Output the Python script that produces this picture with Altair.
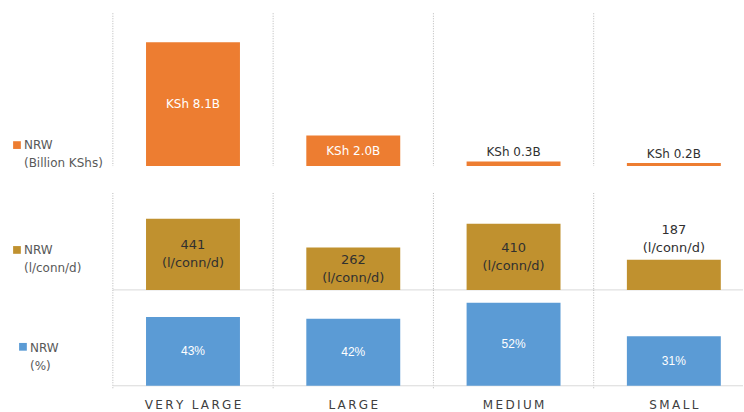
import altair as alt
import pandas as pd

categories = ["VERY LARGE", "LARGE", "MEDIUM", "SMALL"]
nrw_ksh_billion = [8.1, 2.0, 0.3, 0.2]
nrw_l_conn_d = [441, 262, 410, 187]
nrw_pct = [43, 42, 52, 31]

ORANGE = "#ED7D31"
GOLD = "#C0912F"
BLUE = "#5B9BD5"
FONT = "DejaVu Sans"
DARK = "#303030"
LEG = "#595959"
GRID = "#b8b8b8"
BASE = "#d9d9d9"

W = 631
XRANGE = [0, 642]
BARW = 0.586

df1 = pd.DataFrame({"cat": categories, "v": nrw_ksh_billion,
                    "label": [f"KSh {v:.1f}B" for v in nrw_ksh_billion]})
df2 = pd.DataFrame({"cat": categories, "v": nrw_l_conn_d,
                    "label": [f"{v}\n(l/conn/d)" for v in nrw_l_conn_d]})
df3 = pd.DataFrame({"cat": categories, "v": nrw_pct,
                    "label": [f"{v}%" for v in nrw_pct]})
one = pd.DataFrame({"a": [0]})

xscale = alt.Scale(domain=categories, range=XRANGE, paddingInner=0, paddingOuter=0)


def X(**kw):
    return alt.X("cat:N", sort=categories, scale=xscale, axis=None, **kw)


def panel(df, color, domain, height, yrange, thresh, in_color, in_font, in_size,
          in_dy, out_dy, legend_text, sq_xy, txt_xy, div_y2, baseline, cat_labels=False):
    ysc = alt.Scale(domain=domain, range=yrange)
    base = alt.Chart(df)
    layers = []
    layers.append(base.mark_rule(color=GRID, strokeDash=[1, 1.5], strokeWidth=1).encode(
        x=X(bandPosition=0), y=alt.value(0), y2=alt.value(div_y2)))
    if baseline is not None:
        layers.append(alt.Chart(one).mark_rule(color=BASE, strokeWidth=1).encode(
            x=alt.value(0), x2=alt.value(W), y=alt.value(baseline)))
    layers.append(base.mark_bar(width=alt.RelativeBandSize(BARW), color=color).encode(
        x=X(), y=alt.Y("v:Q", scale=ysc, axis=None)))
    layers.append(base.transform_filter(f"datum.v >= {thresh}").transform_calculate(
        mid="datum.v / 2").mark_text(
        font=in_font, fontSize=in_size, color=in_color, baseline="middle", dy=in_dy,
        lineBreak="\n", lineHeight=18).encode(
        x=X(), y=alt.Y("mid:Q", scale=ysc, axis=None), text="label:N"))
    layers.append(base.transform_filter(f"datum.v < {thresh}").mark_text(
        font=FONT, fontSize=in_size, color=DARK, baseline="bottom", dy=out_dy,
        lineBreak="\n", lineHeight=18).encode(
        x=X(), y=alt.Y("v:Q", scale=ysc, axis=None), text="label:N"))
    layers.append(alt.Chart(one).mark_square(size=60, color=color, opacity=1).encode(
        x=alt.value(sq_xy[0]), y=alt.value(sq_xy[1])))
    layers.append(alt.Chart(one).mark_text(
        text=legend_text, lineBreak="\n", lineHeight=18, align="left", baseline="middle",
        font=FONT, fontSize=12, color=LEG).encode(
        x=alt.value(txt_xy[0]), y=alt.value(txt_xy[1])))
    if cat_labels:
        layers.append(base.transform_calculate(
            spaced="replace(datum.cat, regexp('(.)(?!$)', 'g'), '$1\u2009')").mark_text(
            font=FONT, fontSize=12, color="#404040", baseline="middle").encode(
            x=X(), y=alt.value(height + 19), text="spaced:N"))
    return alt.layer(*layers).properties(width=W, height=height)


p1 = panel(df1, ORANGE, [0, 10], 180, [153, 0], 1, "white", FONT, 12, 0, -2,
           "NRW\n(Billion KShs)", (-96, 132), (-89, 132), 153, None)
p2 = panel(df2, GOLD, [0, 600], 97, [97, 0], 250, DARK, FONT, 13, -9, -23,
           "NRW\n(l/conn/d)", (-96, 57), (-89, 57), 97, 97)
p3 = panel(df3, BLUE, [0, 60], 96, [96, 0], 0, "white", "Liberation Sans", 12, 0, -2,
           "NRW\n(%)", (-90, 57), (-83, 58), 100, 96, cat_labels=True)

chart = alt.vconcat(p1, p2, p3, spacing=0, bounds="flush").properties(
    padding={"left": 13, "top": 12, "right": 0, "bottom": 2}
).configure_view(stroke=None)

chart.save("out.html", embed_options={"renderer": "svg", "actions": False})
